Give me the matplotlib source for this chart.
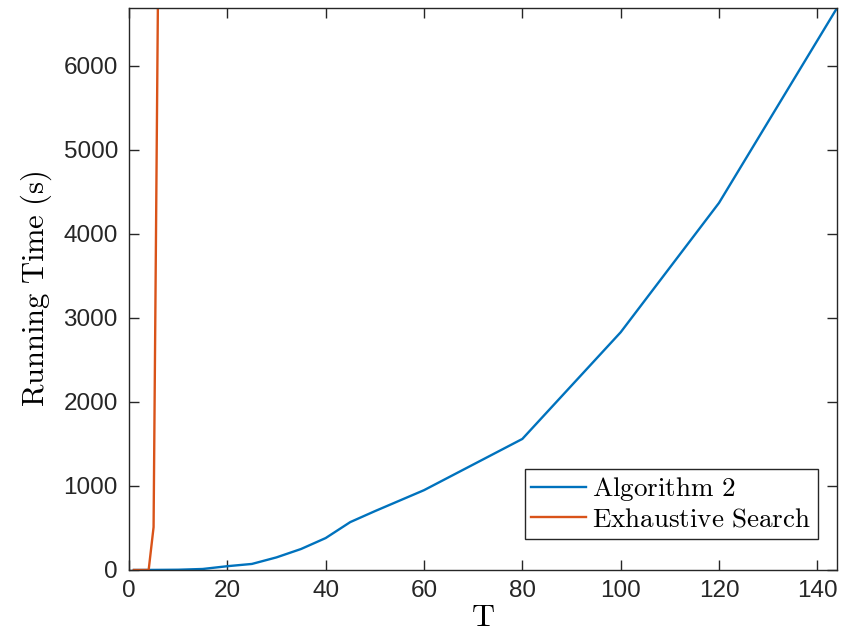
import matplotlib.pyplot as plt

# data
t_alg = [1, 5, 10, 15, 20, 25, 30, 35, 40, 45, 50, 60, 80, 100, 120, 144]
time_alg = [0, 1, 3, 12, 45, 72, 150, 250, 380, 570, 700, 950, 1560, 2830, 4370, 6690]

t_exh = [1, 2, 3, 4, 5, 6]
time_exh = [0, 0, 0, 0, 510, 7600]

plt.rcParams['mathtext.fontset'] = 'cm'

fig = plt.figure(figsize=(8.52, 6.31), dpi=100)
ax = fig.add_axes([0.1514, 0.0967, 0.8310, 0.8906])

ax.plot(t_alg, time_alg, color='#0072BD', lw=1.7, label=r'$\mathrm{Algorithm\ 2}$')
ax.plot(t_exh, time_exh, color='#D95319', lw=1.7, label=r'$\mathrm{Exhaustive\ Search}$')

ax.set_xlim(0, 144)
ax.set_ylim(0, 6690)
ax.set_xticks(range(0, 141, 20))
ax.set_yticks(range(0, 6001, 1000))

for s in ax.spines.values():
    s.set_color('#262626')
    s.set_linewidth(1.0)
ax.tick_params(direction='in', length=7, width=1.0, color='#262626',
               top=True, right=True, labelsize=17.5, labelcolor='#262626')
ax.tick_params(axis='x', pad=7)
ax.tick_params(axis='y', pad=8)
for lab in ax.get_xticklabels() + ax.get_yticklabels():
    lab.set_family('Liberation Sans')

ax.set_xlabel(r'$\mathrm{T}$', fontsize=23, labelpad=0)
ax.set_ylabel(r'$\mathrm{Running\ Time\ (s)}$', fontsize=22, labelpad=7)

leg = ax.legend(loc='lower right', bbox_to_anchor=(0.9732, 0.0552), borderaxespad=0,
                fontsize=19.5, fancybox=False, framealpha=1,
                edgecolor='#262626', borderpad=0.25, handlelength=2.0,
                handletextpad=0.25, labelspacing=0.1)
leg.get_frame().set_linewidth(1.0)

fig.savefig('out.png', dpi=100)
